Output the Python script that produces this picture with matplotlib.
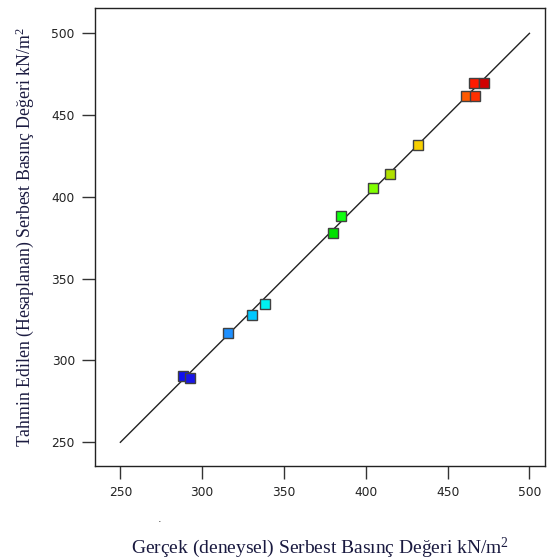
import matplotlib
matplotlib.use("Agg")
import matplotlib.pyplot as plt

plt.rcParams['mathtext.fontset'] = 'custom'
plt.rcParams['mathtext.rm'] = 'Liberation Serif'
plt.rcParams['mathtext.it'] = 'Liberation Serif:italic'

actual = [288.0, 292.4, 315.5, 330.3, 338.4, 380.0, 384.8, 404.5, 414.8, 432.0, 461.0, 467.0, 465.9, 472.0]
predicted = [290.3, 289.0, 316.9, 327.6, 334.4, 378.2, 388.1, 405.7, 413.8, 431.5, 461.5, 461.5, 469.4, 469.4]
colors = ['#1010f0', '#1a16e8', '#1e90ff', '#00c8ff', '#00f0f0', '#00e000', '#10ff10',
          '#80ff00', '#b0e000', '#f8d000', '#ff5a00', '#ff3000', '#ff1a00', '#d00000']
line_x = [250, 500]
xticks = [250, 300, 350, 400, 450, 500]
yticks = [250, 300, 350, 400, 450, 500]

fig = plt.figure(figsize=(5.48, 5.59), dpi=100)
ax = fig.add_axes([95/548, 1-466/559, 450/548, 458/559])
ax.plot(line_x, line_x, color='#222222', lw=1.0, zorder=1)
for x, y, c in zip(actual, predicted, colors):
    ax.plot(x, y, marker='s', markersize=7.2, markerfacecolor=c,
            markeredgecolor='#404040', markeredgewidth=1.0, linestyle='none', zorder=3)

ax.set_xlim(234.5, 509.5)
ax.set_ylim(235.5, 515.5)
ax.set_xticks(xticks)
ax.set_yticks(yticks)
ax.tick_params(direction='out', length=9.5, width=1.0, color='#333333',
               labelsize=8.8, labelcolor='#222222', pad=5)
for s in ax.spines.values():
    s.set_linewidth(1.0)
    s.set_color('#222222')

lab = dict(family='Liberation Serif', color='#1a1a40')
ax.set_xlabel(r'Gerçek (deneysel) Serbest Basınç Değeri kN/m$^{2}$', labelpad=26, fontsize=14, **lab)
ax.set_ylabel(r'Tahmin Edilen (Hesaplanan) Serbest Basınç Değeri kN/m$^{2}$', labelpad=11, fontsize=12.8, **lab)
fig.text(160/548, 1-519/559, '.', fontsize=8, color='#333333', ha='center', va='center')

fig.savefig('out.png', dpi=100)
